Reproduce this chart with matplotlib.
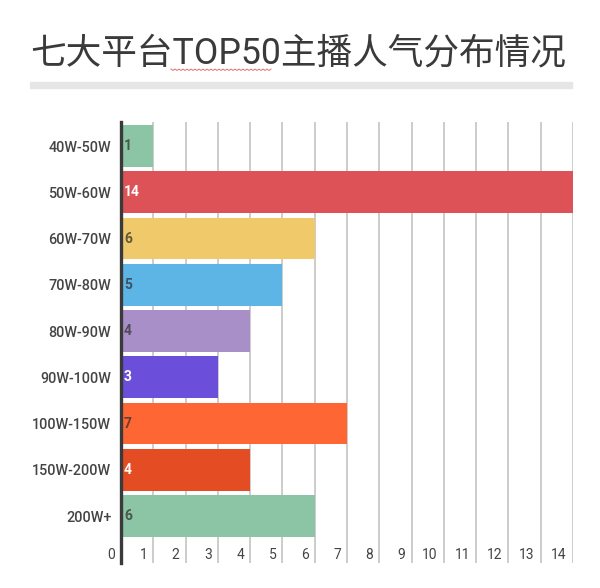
import matplotlib
matplotlib.use("Agg")
import matplotlib.pyplot as plt
import matplotlib.transforms as mtransforms
import numpy as np

categories = ["40W-50W", "50W-60W", "60W-70W", "70W-80W", "80W-90W",
              "90W-100W", "100W-150W", "150W-200W", "200W+"]
values = [1, 14, 6, 5, 4, 3, 7, 4, 6]
colors = ["#8cc4a6", "#dd5257", "#efc96a", "#5db5e5", "#a98fc7",
          "#6b4fda", "#fe6633", "#e44c23", "#8cc4a6"]
label_white = [False, True, False, False, False, True, False, True, False]
xticks = list(range(0, 15))
title = "七大平台TOP50主播人气分布情况"

fam = ["Roboto", "Noto Sans CJK SC", "DejaVu Sans"]
plt.rcParams["font.family"] = fam

fig = plt.figure(figsize=(6, 5.88), dpi=100)
ax = fig.add_axes([121/600, 1-563/588, (573-121)/600, (563-122)/588])

y = list(range(len(categories)))
ax.barh(y, values, height=0.9, color=colors, zorder=2)
ax.set_xlim(0, 14)
ax.set_ylim(9.016, -0.519)

for v in xticks[1:]:
    ax.axvline(v, color="#cccccc", lw=1.4, zorder=1)

for s in ["top", "right", "bottom"]:
    ax.spines[s].set_visible(False)
ax.spines["left"].set_color("#3a3a3a")
ax.spines["left"].set_linewidth(2.4)
ax.spines["left"].set_zorder(3)
ax.set_xticks([])
ax.set_yticks(y)
ax.set_yticklabels(categories, fontsize=10.4, color="#444444", fontweight="medium",
                   family=["Roboto", "DejaVu Sans"])
ax.tick_params(axis="y", length=0, pad=7)

# value labels inside bars
offs = mtransforms.offset_copy(ax.transData, fig=fig, x=3, y=0, units="dots")
for yi, v, w in zip(y, values, label_white):
    ax.text(0, yi, str(v), transform=offs, ha="left", va="center",
            fontsize=10, fontweight="bold",
            color="white" if w else "#333333", alpha=1.0 if w else 0.75, zorder=4)

# x tick labels at bottom, right-aligned before each gridline
offx = mtransforms.offset_copy(ax.transData, fig=fig, x=-6, y=0, units="dots")
for v in xticks:
    ax.text(v, 8.84, str(v), transform=offx, ha="right", va="center",
            fontsize=10, color="#444444", zorder=4)

# title and underline bar
fig.text(30/600, 1-53/588, title, ha="left", va="center", fontsize=25.7,
         color="#3a3a3a", family=fam)
fig.patches.append(plt.Rectangle((30/600, 1-88/588), (572-30)/600, 5.5/588,
                                 transform=fig.transFigure, color="#e6e6e6",
                                 figure=fig))
# spell-check squiggle under "TOP50"
sx = np.arange(171, 272, 2.0)
sy = 69 + np.where(np.arange(len(sx)) % 2 == 0, 0.0, 1.5)
fig.lines.append(plt.Line2D(sx/600, 1-sy/588, transform=fig.transFigure,
                            color="#e07070", lw=0.7, figure=fig))

fig.savefig("out.png", dpi=100, facecolor="white")
